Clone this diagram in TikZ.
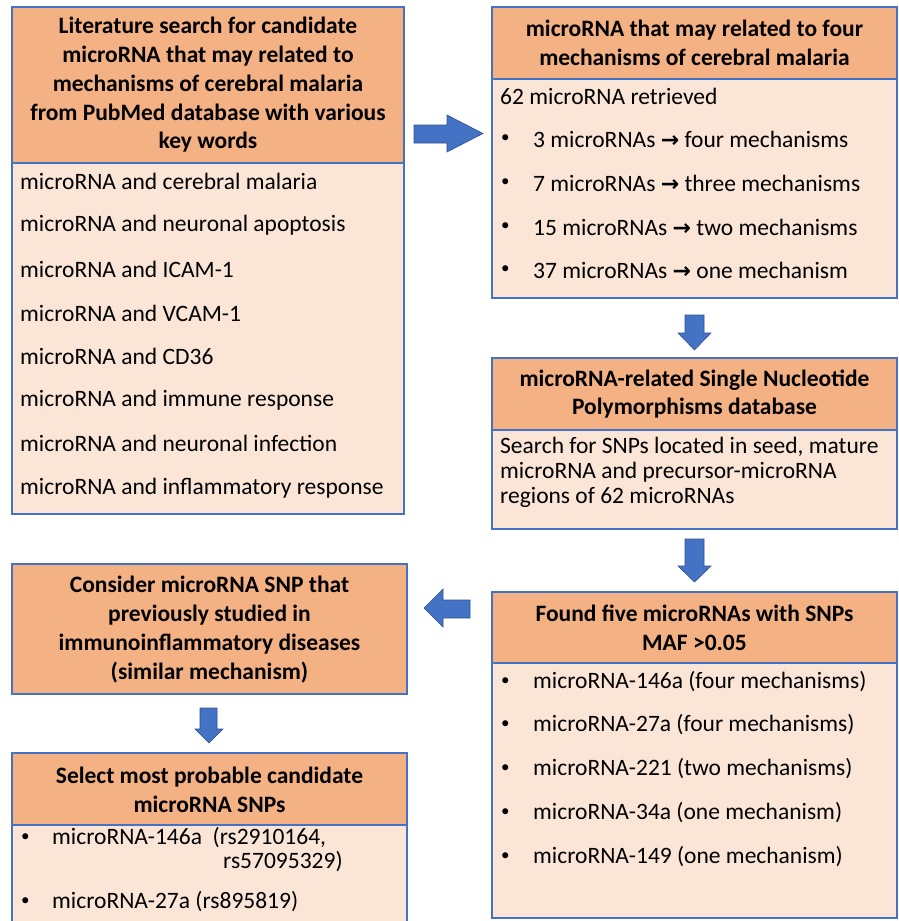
\documentclass[tikz,border=0pt]{standalone}
\usepackage{fontspec}
\setmainfont{Carlito}
\newfontfamily\symfont{DejaVu Sans}
\definecolor{hdrfill}{HTML}{F4B183}
\definecolor{bodyfill}{HTML}{FBE5D6}
\definecolor{bord}{HTML}{4472C4}
\definecolor{arrbord}{HTML}{2F528F}
\newcommand{\rarr}{{\symfont\bfseries\fontsize{22}{22}\selectfont →}}
\begin{document}
\begin{tikzpicture}[x=1pt,y=-1pt,
  box/.style={draw=bord,line width=2.5pt,inner sep=0pt,outer sep=0pt},
  hdr/.style={box,fill=hdrfill},
  bdy/.style={box,fill=bodyfill},
  htxt/.style={font=\fontsize{23.5}{28.7}\selectfont\bfseries,align=center,inner sep=0pt},
  btxt/.style={font=\fontsize{23.5}{25}\selectfont,anchor=west,inner sep=0pt,align=left},
  bul/.style={font=\fontsize{17}{17}\selectfont,anchor=west,inner sep=0pt},
  blockarrow/.style={fill=bord,draw=arrbord,line width=0.6pt,line join=miter}
]
\useasboundingbox (0,0) rectangle (898,921);
\fill[white] (0,0) rectangle (898,921);

% Box 1
\draw[bdy] (12,163) rectangle (404,514);
\draw[hdr] (12,7) rectangle (404,163);
\node[htxt] (h1) at (208,85) {Literature search for candidate\\microRNA that may related to\\mechanisms of cerebral malaria\\from PubMed database with various\\key words};
\node[btxt] (l1) at (20,181) {microRNA and cerebral malaria};
\node[btxt] (l2) at (20,225) {microRNA and neuronal apoptosis};
\node[btxt] (l3) at (20,269) {microRNA and ICAM-1};
\node[btxt] (l4) at (20,313) {microRNA and VCAM-1};
\node[btxt] (l5) at (20,356) {microRNA and CD36};
\node[btxt] (l6) at (20,400) {microRNA and immune response};
\node[btxt] (l7) at (20,443) {microRNA and neuronal infection};
\node[btxt] (l8) at (20,488) {microRNA and inflammatory response};

% Box 2
\draw[bdy] (492,79) rectangle (897,298);
\draw[hdr] (492,7) rectangle (897,79);
\node[htxt] (h2) at (694.5,43) {microRNA that may related to four\\mechanisms of cerebral malaria};
\node[btxt] (r0) at (500,96) {62 microRNA retrieved};
\foreach \yy/\tt [count=\i] in {139/{3 microRNAs \rarr{} four mechanisms},183/{7 microRNAs \rarr{} three mechanisms},227/{15 microRNAs \rarr{} two mechanisms},270/{37 microRNAs \rarr{} one mechanism}}{
  \node[bul] (rb\i) at (501,\yy) {•};
  \node[btxt] (r\i) at (533,\yy) {\tt};
}

% Box 3
\draw[bdy] (492,430) rectangle (897,529);
\draw[hdr] (492,358) rectangle (897,430);
\node[htxt] (h3) at (694.5,394) {microRNA-related Single Nucleotide\\Polymorphisms database};
\node[btxt] (s1) at (500,447) {Search for SNPs located in seed, mature};
\node[btxt] (s2) at (500,472) {microRNA and precursor-microRNA};
\node[btxt] (s3) at (500,497) {regions of 62 microRNAs};

% Box 4
\draw[bdy] (492,663) rectangle (897,918);
\draw[hdr] (492,592) rectangle (897,663);
\node[htxt] (h4) at (694.5,628) {Found five microRNAs with SNPs\\MAF >0.05};
\foreach \yy/\tt [count=\i] in {682/{microRNA-146a (four mechanisms)},725/{microRNA-27a (four mechanisms)},769/{microRNA-221 (two mechanisms)},813/{microRNA-34a (one mechanism)},857/{microRNA-149 (one mechanism)}}{
  \node[bul] (fb\i) at (501,\yy) {•};
  \node[btxt] (f\i) at (533,\yy) {\tt};
}

% Box 5
\draw[hdr] (12,564) rectangle (407,694);
\node[htxt] (h5) at (209.5,629.5) {Consider microRNA SNP that\\previously studied in\\immunoinflammatory diseases\\(similar mechanism)};

% Box 6
\draw[bdy] (12,825) rectangle (407,935);
\draw[hdr] (12,753) rectangle (407,825);
\node[htxt] (h6) at (209.5,789.5) {Select most probable candidate\\microRNA SNPs};
\node[bul] (cb1) at (21,838) {•};
\node[btxt] (c1) at (52,838) {microRNA-146a\ \ (rs2910164,};
\node[btxt] (c1b) at (223,862) {rs57095329)};
\node[bul] (cb2) at (21,902) {•};
\node[btxt] (c2) at (52,902) {microRNA-27a (rs895819)};

% Block arrows
\draw[blockarrow] (414,125) -- (447,125) -- (447,115) -- (483,133.5) -- (447,152) -- (447,143) -- (414,143) -- cycle;
\draw[blockarrow] (685,315) -- (704,315) -- (704,333) -- (711,333) -- (694.5,350) -- (678,333) -- (685,333) -- cycle;
\draw[blockarrow] (685,539) -- (704,539) -- (704,566) -- (711,566) -- (694.5,582) -- (678,566) -- (685,566) -- cycle;
\draw[blockarrow] (470,600) -- (443,600) -- (443,589) -- (424,608) -- (443,627) -- (443,618) -- (470,618) -- cycle;
\draw[blockarrow] (200,708) -- (217,708) -- (217,729) -- (223,729) -- (209,743) -- (195,729) -- (200,729) -- cycle;
\end{tikzpicture}
\end{document}
